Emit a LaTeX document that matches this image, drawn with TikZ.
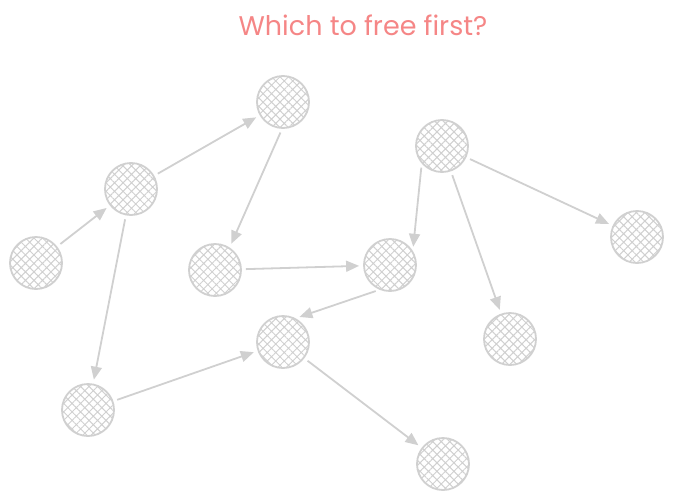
\documentclass[tikz,border=0pt]{standalone}
\usepackage{fontspec}
\setmainfont{Poppins}
\usetikzlibrary{patterns.meta,arrows.meta}
\definecolor{blobgray}{HTML}{D0D0D0}
\definecolor{titlepink}{HTML}{F58686}
\begin{document}
\begin{tikzpicture}[x=1pt,y=-1pt,
      every node/.style = {shape=circle, draw=blobgray, line width=1.8pt,
        minimum size=52pt, inner sep=0pt,
        pattern={Hatch[angle=45,distance=6pt,line width=1pt]},
        pattern color=blobgray},
      ref/.style = {draw=blobgray, line width=1.8pt,
        -{Triangle[width=11pt,length=13pt]},
        shorten >=4pt, shorten <=4pt}]
  \useasboundingbox (0,0) rectangle (673,501);
  \node[shape=rectangle, draw=none, pattern=none, minimum size=0pt,
    text=titlepink, font=\fontsize{27}{30}\selectfont] (title) at (363,25) {Which to free first?};
  % objects on the heap
  \node (a) at (36,263) {};
  \node (b) at (131,189) {};
  \node (c) at (283,102) {};
  \node (d) at (215,270) {};
  \node (e) at (390,265) {};
  \node (f) at (442,146) {};
  \node (g) at (637,237) {};
  \node (h) at (510,339) {};
  \node (i) at (283,342) {};
  \node (j) at (88,410) {};
  \node (k) at (443,464) {};
  % references
  \draw[ref] (a) -- (b);
  \draw[ref] (b) -- (c);
  \draw[ref] (c.268) -- (d.57);
  \draw[ref] (b) -- (j);
  \draw[ref] (j) -- (i);
  \draw[ref] (d) -- (e);
  \draw[ref] (e.247) -- (i.62);
  \draw[ref] (i) -- (k);
  \draw[ref] (f.221) -- (e.32);
  \draw[ref] (f) -- (g);
  \draw[ref] (f) -- (h);
\end{tikzpicture}
\end{document}
